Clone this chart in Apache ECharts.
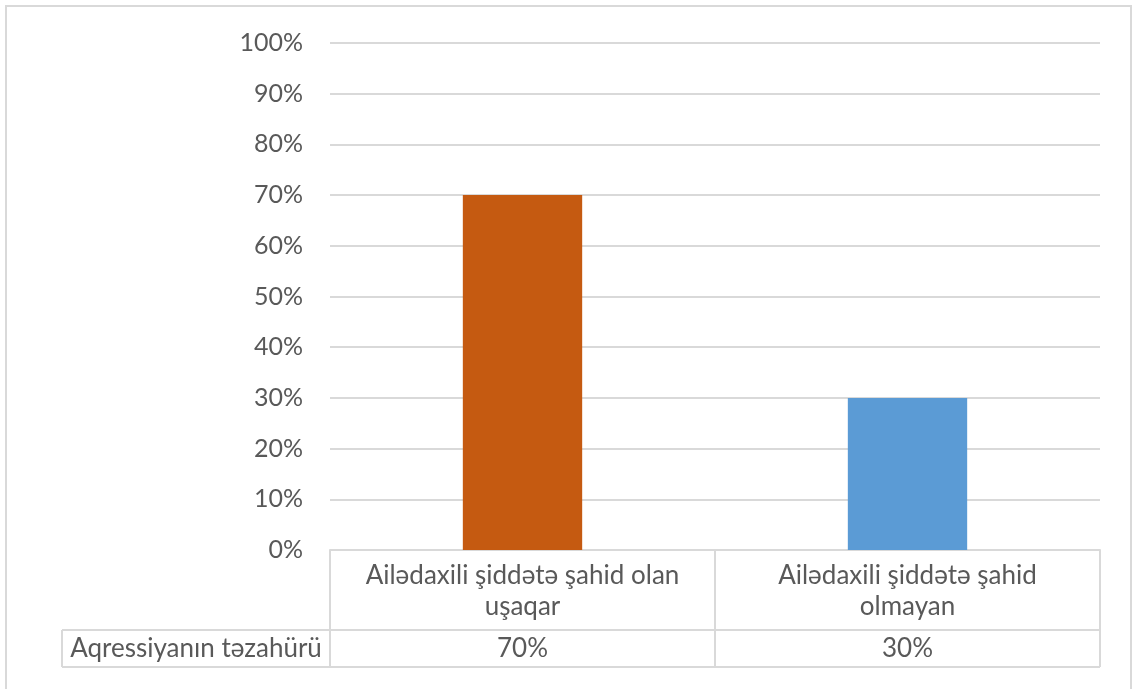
<!DOCTYPE html>
<html><head><meta charset="utf-8">
<script src="https://cdn.jsdelivr.net/npm/echarts@6/dist/echarts.min.js"></script>
<style>html,body{margin:0;padding:0;background:#fff}#c{width:1133px;height:689px}</style>
</head><body><div id="c"></div>
<script>
const categories = ['Ailədaxili şiddətə şahid olan uşaqar', 'Ailədaxili şiddətə şahid olmayan'];
const values = [70, 30];
const seriesName = 'Aqressiyanın təzahürü';
const barColors = ['#C55A11', '#5B9BD5'];
const yTicks = [0, 10, 20, 30, 40, 50, 60, 70, 80, 90, 100];

const FONT = 'Lato, "Open Sans", sans-serif';
const TXT = '#595959';
const LINE = '#d9d9d9';

const ctx = document.createElement('canvas').getContext('2d');
ctx.font = '26px ' + FONT;
function wrap(s, maxW) {
  const words = s.split(' '); const lines = []; let cur = '';
  for (const w of words) {
    const t = cur ? cur + ' ' + w : w;
    if (cur && ctx.measureText(t).width > maxW) { lines.push(cur); cur = w; } else cur = t;
  }
  if (cur) lines.push(cur);
  return lines.join('\n');
}

const chart = echarts.init(document.getElementById('c'), null, {renderer: 'canvas'});
const option = {
  animation: false,
  backgroundColor: '#fff',
  grid: {left: 330, right: 33, top: 43, bottom: 139},
  xAxis: [{
    type: 'category', data: categories,
    axisLine: {lineStyle: {color: LINE, width: 2}},
    axisTick: {show: true, length: 117, lineStyle: {color: LINE, width: 2}},
    axisLabel: {color: TXT, fontFamily: FONT, fontSize: 26, lineHeight: 31, margin: 10, interval: 0,
      formatter: v => wrap(v, 335)}
  }, {
    type: 'category', data: categories, position: 'bottom', offset: 80,
    axisLine: {show: true, lineStyle: {color: LINE, width: 2}},
    axisTick: {show: false},
    axisLabel: {color: TXT, fontFamily: FONT, fontSize: 26, lineHeight: 30, margin: 4, interval: 0,
      formatter: (v, i) => values[i] + '%'}
  }],
  yAxis: {
    type: 'value', min: 0, max: 100, interval: 10,
    axisLine: {show: false}, axisTick: {show: false},
    splitLine: {lineStyle: {color: LINE, width: 2}},
    axisLabel: {color: TXT, fontFamily: FONT, fontSize: 25, margin: 27, formatter: v => v + '%'}
  },
  series: [{
    type: 'bar', name: seriesName, barWidth: '31%',
    data: values.map((v, i) => ({value: v, itemStyle: {color: barColors[i]}}))
  }]
};
chart.setOption(option);

// Data-table outlines & row header derived from the axis scale
const x0 = chart.convertToPixel({xAxisIndex: 0}, 0);
const x1 = chart.convertToPixel({xAxisIndex: 0}, 1);
const half = (x1 - x0) / 2;
const left = x0 - half, right = x1 + half;
const yBase = chart.convertToPixel({yAxisIndex: 0}, 0);
const rowTop = yBase + 80, rowBot = yBase + 117;
const headLeft = 62;
const ls = {stroke: LINE, lineWidth: 2};
chart.setOption({
  graphic: [
    {type: 'rect', shape: {x: 6, y: 6, width: 1125, height: 700}, style: {fill: 'none', stroke: LINE, lineWidth: 2}, silent: true},
    {type: 'line', shape: {x1: headLeft, y1: rowBot, x2: right, y2: rowBot}, style: ls},
    {type: 'line', shape: {x1: headLeft, y1: rowTop, x2: left, y2: rowTop}, style: ls},
    {type: 'line', shape: {x1: headLeft, y1: rowTop, x2: headLeft, y2: rowBot}, style: ls},
    {type: 'text', x: (headLeft + left) / 2, y: (rowTop + rowBot) / 2,
      style: {text: seriesName, fill: TXT, font: '26px ' + FONT, align: 'center', verticalAlign: 'middle'}}
  ]
});
</script></body></html>
